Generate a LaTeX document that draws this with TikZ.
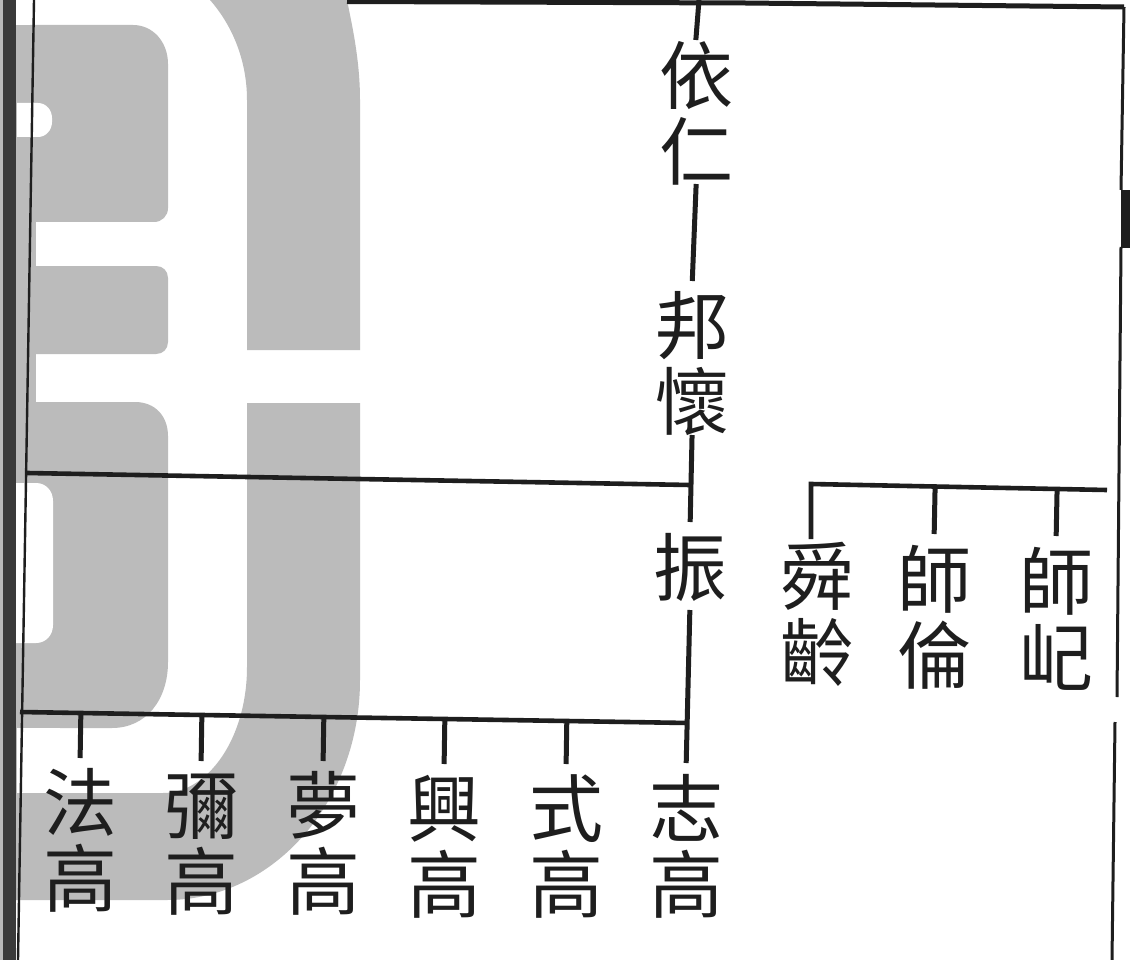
\documentclass[tikz,border=0pt]{standalone}
\usepackage{fontspec}
\newfontfamily\cjk{Noto Sans CJK TC}
\usetikzlibrary{calc}
\definecolor{ink}{HTML}{1E1E1E}
\definecolor{wm}{HTML}{BBBBBB}
\definecolor{strip}{HTML}{3A3A3A}
\newcommand\cjs{\rule[-0.12em]{0pt}{1em}}
\begin{document}
\begin{tikzpicture}[x=1pt,y=-1pt,
  person/.style={font=\cjk\fontsize{74}{76}\selectfont, align=center, inner sep=0pt, outer sep=0pt, text=ink},
  link/.style={draw=ink, line width=5pt},
  bar/.style={draw=ink, line width=4.6pt},
  frame/.style={draw=ink, line width=3pt}]
\useasboundingbox (0,0) rectangle (1130,960);
\fill[white] (0,0) rectangle (1130,960);
% watermark
\fill[wm] (0,25) rectangle (36,900);
\fill[wm] (30,25) -- (133,25) .. controls (153,25) and (168,42) .. (168,64) -- (168,208) .. controls (168,216) and (162,222) .. (154,222) -- (30,222) -- cycle;
\fill[wm] (30,266) -- (156,266) .. controls (163,266) and (168,271) .. (168,278) -- (168,342) .. controls (168,349) and (163,354) .. (156,354) -- (30,354) -- cycle;
\fill[wm] (30,402) -- (135,402) .. controls (155,402) and (168,416) .. (168,436) -- (168,662) .. controls (168,700) and (146,728) .. (112,728) -- (30,728) -- cycle;
\fill[wm] (247,403) -- (360,403) -- (360,680) .. controls (360,801) and (274,900) .. (167,900) -- (0,900) -- (0,793) -- (163,793) .. controls (209,793) and (247,737) .. (247,667) -- cycle;
\fill[wm] (210,0) -- (347,0) .. controls (352,25) and (360,60) .. (360,100) -- (360,350) -- (247,350) -- (247,100) .. controls (247,60) and (232,25) .. (210,0) -- cycle;
\fill[white] (17,103) -- (38,103) .. controls (46,103) and (52,110) .. (52,118) -- (52,122) .. controls (52,130) and (46,137) .. (38,137) -- (17,137) -- cycle;
\fill[white] (15,483) -- (36,483) .. controls (46,483) and (53,491) .. (53,501) -- (53,625) .. controls (53,635) and (46,643) .. (36,643) -- (15,643) -- cycle;
\fill[white] (17,728) rectangle (60,793);
% page borders
\fill[gray!55] (0,0) rectangle (3,960);
\fill[strip] (3,0) rectangle (16,960);
\draw[frame, line width=2.4pt] (34,0) -- (18,960);
\draw[ink, line width=5pt] (347,1.5) -- (745,3) -- (1124,7);
\draw[frame] (1124,7) -- (1121,190);
\draw[frame] (1121,247) -- (1117,697);
\draw[frame] (1115,722) -- (1112,960);
\fill[ink] (1121,190) rectangle (1130,248);
% names
\node[person] (yiren)    at (696,113) {\cjs 依\\\cjs 仁};
\node[person] (banghuai) at (692,363) {\cjs 邦\\\cjs 懷};
\node[person] (zhen)     at (690,567) {\cjs 振};
\node[person] (shunling) at (817,614) {\cjs 舜\\\cjs 齡};
\node[person] (shilun)   at (934,617) {\cjs 師\\\cjs 倫};
\node[person] (shiqi)    at (1056,619) {\cjs 師\\\cjs 屺};
\node[person] (fagao)    at (80,840)  {\cjs 法\\\cjs 高};
\node[person] (migao)    at (201,843) {\cjs 彌\\\cjs 高};
\node[person] (menggao)  at (323,843) {\cjs 夢\\\cjs 高};
\node[person] (xinggao)  at (444,846) {\cjs 興\\\cjs 高};
\node[person] (shigao)   at (566,846) {\cjs 式\\\cjs 高};
\node[person] (zhigao)   at (686,846) {\cjs 志\\\cjs 高};
% main line
\coordinate (top) at (699,0);
\draw[link, shorten >=-2pt] (top) -- (yiren.north);
\draw[link, shorten <=-4pt, shorten >=7pt] (yiren.south) -- (banghuai.north);
\draw[link, shorten <=-3pt, shorten >=8pt] (banghuai.south) -- (zhen.north);
\draw[link, shorten <=6pt, shorten >=8pt] (zhen.south) -- (zhigao.north);
% sibling bar of zhen
\coordinate (b1l) at (27,473);
\coordinate (b1r) at (690,485);
\draw[bar] (b1l) -- (b1r);
% children of zhen
\coordinate (b2l) at (20,712);
\coordinate (b2r) at (688,723);
\draw[bar] (b2l) -- (b2r);
\foreach \n in {fagao,migao,menggao,xinggao,shigao}
  \draw[link, shorten >=7pt] ($(b2l)!(\n.north)!(b2r)$) -- (\n.north);
% right group
\coordinate (b3l) at (811,484);
\coordinate (b3r) at (1107,490);
\draw[bar, line join=miter] (shunling.north -| b3l) -- (b3l) -- (b3r);
\draw[link, shorten >=8pt] ($(b3l)!(shilun.north)!(b3r)$) -- (shilun.north);
\draw[link, shorten >=8pt] ($(b3l)!(shiqi.north)!(b3r)$) -- (shiqi.north);
\end{tikzpicture}
\end{document}
